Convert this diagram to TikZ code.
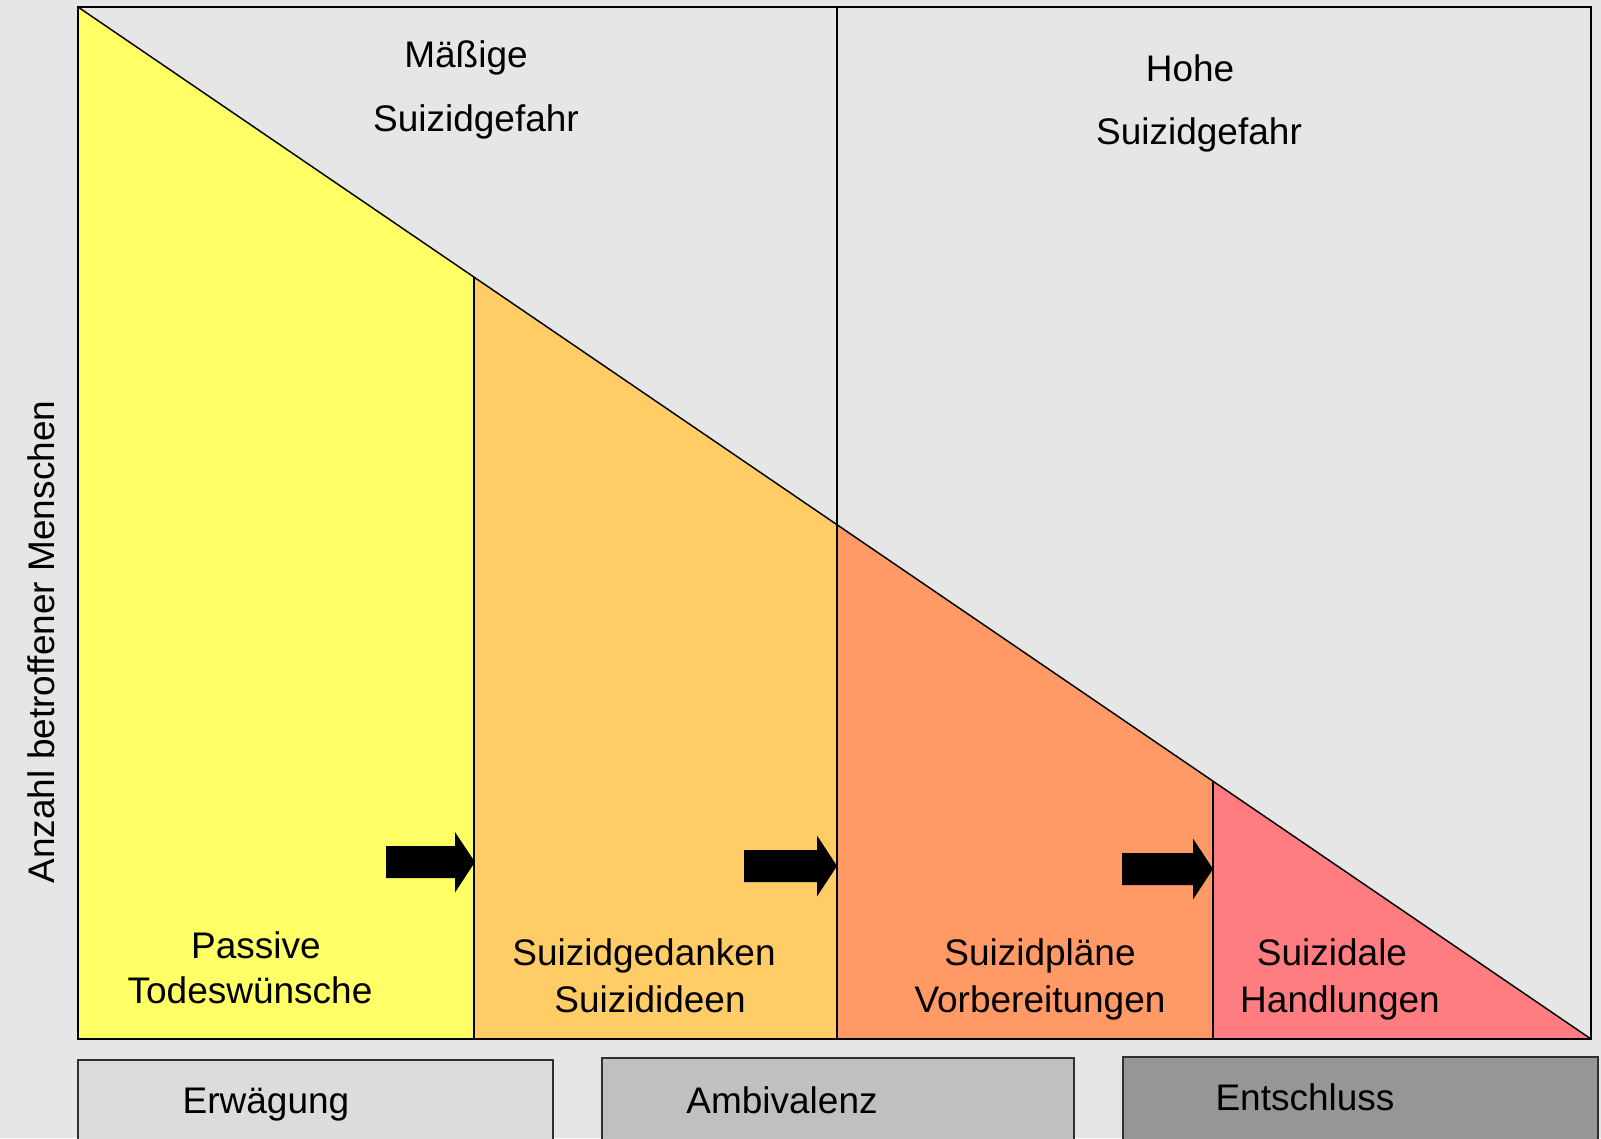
\documentclass[tikz,border=0pt]{standalone}
\usepackage{fontspec}
\setmainfont{Liberation Sans}
\definecolor{bg}{HTML}{E6E6E6}
\definecolor{cyellow}{HTML}{FFFF66}
\definecolor{corange}{HTML}{FFCC66}
\definecolor{cdorange}{HTML}{FF9966}
\definecolor{cred}{HTML}{FF7C80}
\definecolor{boxa}{HTML}{DCDCDC}
\definecolor{boxb}{HTML}{C0C0C0}
\definecolor{boxc}{HTML}{969696}
\definecolor{boxline}{HTML}{303030}
\begin{document}
\begin{tikzpicture}[x=0.75pt,y=-0.75pt,
  lbl/.style={font=\fontsize{27.75}{33}\selectfont, inner sep=0pt, anchor=base},
  outline/.style={draw=black, line width=1.1pt, line join=miter},
  divider/.style={draw=black, line width=0.9pt},
  phasebox/.style={draw=boxline, line width=0.8pt},
  blockarrow/.style={fill=black}]
\clip (0,0) rectangle (1601,1138);
\fill[bg] (0,0) rectangle (1601,1138);
% key points
\coordinate (TL) at (78,7);
\coordinate (BR) at (1591,1039);
\coordinate (BL) at (78,1039);
\coordinate (TR) at (1591,7);
\coordinate (d1) at (474,277.1);
\coordinate (d2) at (837,524.7);
\coordinate (d3) at (1213,781.2);
\coordinate (b1) at (474,1039);
\coordinate (b2) at (837,1039);
\coordinate (b3) at (1213,1039);
\coordinate (t2) at (837,7);
% coloured stages
\fill[cyellow] (TL) -- (d1) -- (b1) -- (BL) -- cycle;
\fill[corange] (d1) -- (d2) -- (b2) -- (b1) -- cycle;
\fill[cdorange] (d2) -- (d3) -- (b3) -- (b2) -- cycle;
\fill[cred] (d3) -- (BR) -- (b3) -- cycle;
% lines
\draw[outline] (TL) rectangle (BR);
\draw[outline] (TL) -- (BR);
\draw[divider] (d1) -- (b1);
\draw[divider] (t2) -- (b2);
\draw[divider] (d3) -- (b3);
% block arrows
\fill[blockarrow] (386,846) -- (455,846) -- (455,832) -- (475,862) -- (455,892.5) -- (455,878) -- (386,878) -- cycle;
\fill[blockarrow] (744,850) -- (817,850) -- (817,835.5) -- (837,866) -- (817,896.5) -- (817,882) -- (744,882) -- cycle;
\fill[blockarrow] (1122,853) -- (1193,853) -- (1193,838.5) -- (1213,869) -- (1193,899.5) -- (1193,885) -- (1122,885) -- cycle;
% phase boxes
\draw[phasebox, fill=boxa] (78,1060) rectangle (553,1160);
\draw[phasebox, fill=boxb] (602,1058) rectangle (1074,1160);
\draw[phasebox, fill=boxc] (1123,1057) rectangle (1598,1160);
% texts
\node[lbl] (m1) at (466,68) {Mäßige};
\node[lbl] (m2) at (476,131) {Suizidgefahr};
\node[lbl] (h1) at (1190,82) {Hohe};
\node[lbl] (h2) at (1199,144) {Suizidgefahr};
\node[lbl] (s1a) at (256,958) {Passive};
\node[lbl] (s1b) at (250,1003) {Todeswünsche};
\node[lbl] (s2a) at (644,965) {Suizidgedanken};
\node[lbl] (s2b) at (650,1012) {Suizidideen};
\node[lbl] (s3a) at (1040,965) {Suizidpläne};
\node[lbl] (s3b) at (1040,1012) {Vorbereitungen};
\node[lbl] (s4a) at (1332,965) {Suizidale};
\node[lbl] (s4b) at (1340,1012) {Handlungen};
\node[lbl] (p1) at (266,1113) {Erwägung};
\node[lbl] (p2) at (782,1113) {Ambivalenz};
\node[lbl] (p3) at (1305,1110) {Entschluss};
\node[lbl, rotate=90] (ylab) at (54,642) {Anzahl betroffener Menschen};
\end{tikzpicture}
\end{document}
